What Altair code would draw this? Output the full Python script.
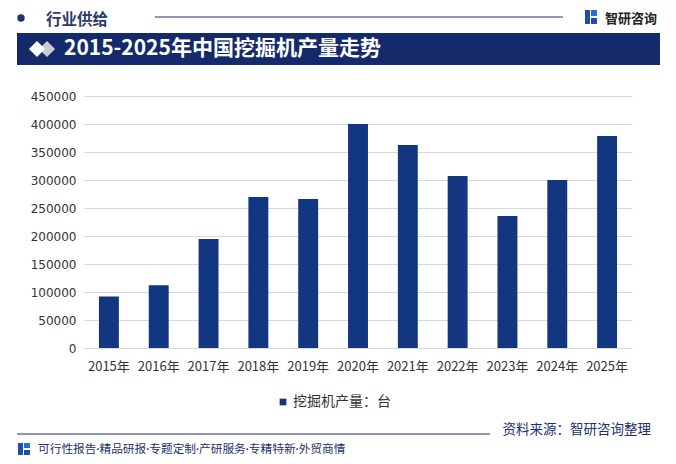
import altair as alt
import pandas as pd

years = ["2015年", "2016年", "2017年", "2018年", "2019年", "2020年",
         "2021年", "2022年", "2023年", "2024年", "2025年"]
output = [92000, 112000, 194500, 269500, 266000, 400000,
          362500, 307000, 235500, 300000, 378500]
series_name = "挖掘机产量：台"
y_ticks = [0, 50000, 100000, 150000, 200000, 250000, 300000, 350000, 400000, 450000]

NAVY = "#12367f"
BANNER = "#142a6a"
DARK = "#1e326c"
CJK = "Noto Sans CJK SC"

df = pd.DataFrame({"year": years, "value": output, "series": series_name})

bars = alt.Chart(df).mark_bar(color=NAVY).encode(
    x=alt.X("year:N", sort=years, title=None,
            scale=alt.Scale(paddingInner=0.6, paddingOuter=0.3),
            axis=alt.Axis(labelAngle=0, labelFont=CJK, labelFontSize=13,
                          labelColor="#333333", labelPadding=12, ticks=False,
                          domain=True, domainColor="#d9d9d9", grid=False)),
    y=alt.Y("value:Q", title=None,
            scale=alt.Scale(domain=[0, 450000], nice=False),
            axis=alt.Axis(values=y_ticks, format="d", labelFont="DejaVu Sans",
                          labelFontSize=12, labelColor="#333333", labelPadding=8,
                          ticks=False, domain=False, grid=True,
                          gridColor="#d9d9d9", gridWidth=1)),
    color=alt.Color("series:N", title=None,
                    scale=alt.Scale(range=[NAVY]),
                    legend=alt.Legend(orient="none", legendX=192, legendY=299,
                                      symbolType="square", symbolSize=45,
                                      symbolStrokeWidth=0,
                                      labelFont=CJK, labelFontSize=14,
                                      labelColor="#333333", labelOffset=3)),
)

one = alt.Data(values=[{"k": 1}])


def txt(x, y, text, size, color, weight="normal", align="left", font=CJK):
    return alt.Chart(one).mark_text(
        text=text, font=font, fontSize=size, color=color, fontWeight=weight,
        align=align, baseline="middle").encode(x=alt.value(x), y=alt.value(y))


def rect(x1, x2, y1, y2, color):
    return alt.Chart(one).mark_rect(color=color).encode(
        x=alt.value(x1), x2=alt.value(x2), y=alt.value(y1), y2=alt.value(y2))


def hline(x1, x2, y, color, w=1.0):
    return alt.Chart(one).mark_rule(color=color, strokeWidth=w).encode(
        x=alt.value(x1), x2=alt.value(x2), y=alt.value(y))


def pt(x, y, shape, size, color):
    return alt.Chart(one).mark_point(shape=shape, size=size, filled=True,
                                     color=color, opacity=1).encode(
        x=alt.value(x), y=alt.value(y))


deco = [
    # top header
    pt(-63, -78, "circle", 55, DARK),
    txt(-38, -76.5, "行业供给", 15.5, "#2b3b6b", "bold"),
    hline(71, 479, -79, DARK, 1),
    rect(501, 506, -86, -72, "#1d4fa8"),
    rect(507, 513, -86, -80, "#2a6fd0"),
    rect(507, 513, -78, -72, "#1d4fa8"),
    txt(521, -77, "智研咨询", 13, "#222222", "bold"),
    # banner
    rect(-67, 576, -63, -31, BANNER),
    pt(-37, -47, "diamond", 260, "#c9ccd6"),
    pt(-47, -47, "diamond", 260, "#ffffff"),
    txt(-20, -47, "2015-2025年中国挖掘机产量走势", 21, "#ffffff", "bold"),
    # bottom
    txt(567, 334, "资料来源：智研咨询整理", 13.5, DARK, align="right"),
    hline(-67, 406, 338, DARK, 1),
    rect(-66, -61, 347, 359, "#1d4fa8"),
    rect(-60, -54, 347, 352, "#2a6fd0"),
    rect(-60, -54, 354, 359, "#1d4fa8"),
    txt(-46, 353, "可行性报告·精品研报·专题定制·产研服务·专精特新·外贸商情", 11.7, DARK,
        font="Lato, Noto Sans CJK SC"),
]

chart = alt.layer(bars, *deco).properties(
    width=548, height=252,
    padding={"left": 76, "top": 88, "right": 36, "bottom": 108},
    autosize=alt.AutoSizeParams(type="none"),
    background="#ffffff",
).configure_view(stroke=None, clip=False)

chart.save("out.html", embed_options={"renderer": "svg", "actions": False})
